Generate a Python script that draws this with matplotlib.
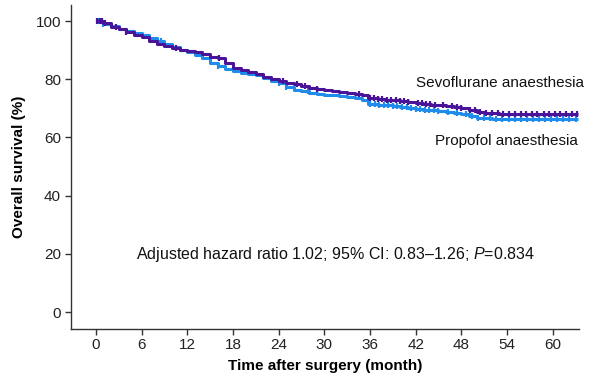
import matplotlib
matplotlib.use("Agg")
import matplotlib.pyplot as plt

plt.rcParams['font.family'] = ['Liberation Sans', 'DejaVu Sans']
plt.rcParams['mathtext.fontset'] = 'custom'
plt.rcParams['mathtext.rm'] = 'Liberation Sans'
plt.rcParams['mathtext.it'] = 'Liberation Sans:italic'

# Sevoflurane anaesthesia (step function)
sevo_t = [0, 1, 2, 3, 4, 5, 6, 7, 8, 9, 10, 11, 12, 13, 14, 15, 16, 17, 18, 19, 20,
          21, 22, 23, 24, 25, 26, 27, 28, 29, 30, 31, 32, 33, 34, 35, 35.8, 37, 38,
          39, 40, 41, 42, 43, 44, 45, 46, 47, 48, 49, 50, 51, 53, 55, 63.3]
sevo_s = [100, 99.2, 98.0, 97.2, 96.2, 95.3, 94.5, 93.3, 92.2, 91.3, 90.8, 90.2, 89.7,
          89.2, 88.5, 87.8, 87.3, 85.5, 84.0, 83.3, 82.5, 81.7, 80.8, 80.0, 79.4, 78.8,
          78.2, 77.6, 77.1, 76.7, 76.3, 75.9, 75.5, 75.2, 74.9, 74.6, 73.5, 73.2, 73.0,
          72.7, 72.5, 72.2, 71.9, 71.6, 71.3, 71.0, 70.7, 70.4, 70.0, 69.4, 68.9, 68.5,
          68.2, 68.0, 68.0]
sevo_cens = [0.2, 0.5, 0.8, 1.2, 2.6, 4.0, 10.5, 16.2, 24.6, 26.4, 27.5, 29.0, 34.6,
             36.0, 36.5, 37.0, 37.6, 38.2, 38.8, 39.4, 40.0, 40.5, 41.0, 42.3, 42.8,
             43.3, 43.9, 44.5, 45.6, 46.8, 47.4, 48.0, 49.2, 49.8, 50.5, 51.2, 52.0,
             52.8, 53.5, 54.3, 55.0, 55.8, 56.5, 57.3, 58.0, 58.8, 59.5, 60.3, 61.0,
             61.8, 62.5, 63.2]

# Propofol anaesthesia (step function)
prop_t = [0, 1, 2, 3, 4, 5, 6, 7, 8, 9, 10, 11, 12, 13, 14, 15, 16, 17, 18, 19, 20,
          21, 22, 23, 24, 25, 26, 27, 28, 29, 30, 31, 32, 33, 34, 35, 35.8, 37, 38,
          39, 40, 41, 42, 43, 44, 45, 46, 47, 48, 49, 50, 52, 55, 63.3]
prop_s = [100, 99.0, 98.2, 97.3, 96.6, 95.9, 95.1, 94.3, 93.2, 92.0, 91.0, 90.0, 89.3,
          88.4, 87.2, 85.6, 84.6, 83.5, 82.7, 82.2, 81.8, 81.3, 80.4, 79.4, 78.6, 77.4,
          76.3, 75.8, 75.4, 75.0, 74.7, 74.5, 74.2, 73.9, 73.5, 72.9, 71.6, 71.3, 71.0,
          70.7, 70.4, 70.1, 69.9, 69.6, 69.4, 69.1, 68.8, 68.5, 68.2, 67.5, 66.7, 66.4,
          66.3, 66.3]
prop_cens = [0.3, 0.7, 1.0, 8.5, 16.0, 24.0, 25.0, 27.8, 36.0, 36.6, 37.2, 37.8, 38.4,
             39.0, 39.6, 40.2, 40.8, 41.4, 42.0, 42.6, 43.2, 43.8, 44.4, 45.0, 46.2,
             47.4, 48.6, 49.4, 50.2, 51.0, 51.8, 52.6, 53.4, 54.2, 55.0, 55.8, 56.6,
             57.4, 58.2, 59.0, 59.8, 60.6, 61.4, 62.2, 63.0]

x_ticks = [0, 6, 12, 18, 24, 30, 36, 42, 48, 54, 60]
y_ticks = [0, 20, 40, 60, 80, 100]

c_sevo = '#4a1498'
c_prop = '#1f8ceb'


def step_value(ts, ss, t):
    v = ss[0]
    for ti, si in zip(ts, ss):
        if ti <= t:
            v = si
    return v


fig = plt.figure(figsize=(6, 3.85), dpi=100)
ax = fig.add_axes([0.1178, 0.1462, 0.965 - 0.1178, 0.987 - 0.1462])

for ts, ss, cens, col in [(prop_t, prop_s, prop_cens, c_prop),
                           (sevo_t, sevo_s, sevo_cens, c_sevo)]:
    ax.step(ts, ss, where='post', color=col, lw=2.2, solid_capstyle='butt')
    cy = [step_value(ts, ss, c) for c in cens]
    ax.plot(cens, cy, ls='none', marker='|', ms=5, mew=1.6, color=col)

ax.set_xlim(-3.3, 63.45)
ax.set_ylim(-5.7, 105.5)
ax.set_xticks(x_ticks)
ax.set_yticks(y_ticks)
ax.spines['top'].set_visible(False)
ax.spines['right'].set_visible(False)
for s in ['left', 'bottom']:
    ax.spines[s].set_color('#333333')
    ax.spines[s].set_linewidth(1.0)
ax.tick_params(axis='both', direction='out', length=4, width=1, color='#333333',
               labelsize=11, labelcolor='#222222', pad=3)

ax.set_xlabel('Time after surgery (month)', fontsize=11, fontweight='bold', labelpad=5)
ax.set_ylabel('Overall survival (%)', fontsize=11, fontweight='bold', labelpad=7)

ax.text(42.1, 78.7, 'Sevoflurane anaesthesia', fontsize=11, va='center', ha='left',
        color='#111111')
ax.text(44.5, 58.8, 'Propofol anaesthesia', fontsize=11, va='center', ha='left',
        color='#111111')
ax.text(5.3, 19.9, 'Adjusted hazard ratio 1.02; 95% CI: 0.83\u20131.26; $P$=0.834',
        fontsize=11.5, va='center', ha='left', color='#111111')

fig.savefig('out.png', dpi=100)
